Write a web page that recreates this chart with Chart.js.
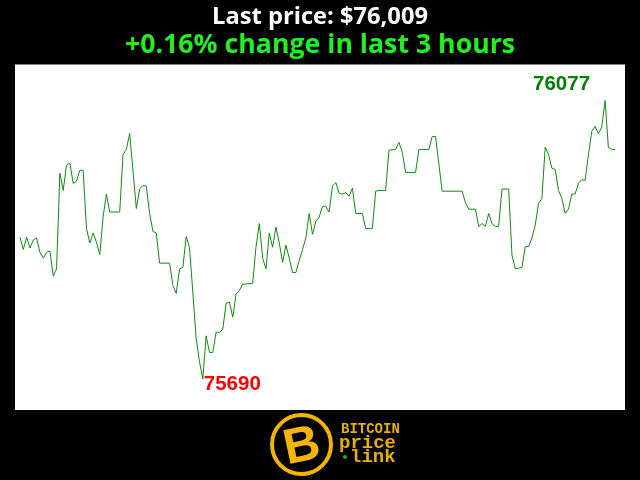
<!DOCTYPE html>
<html>
<head>
<meta charset="utf-8">
<script src="https://cdn.jsdelivr.net/npm/chart.js@4.4.0/dist/chart.umd.min.js"></script>
<style>
    html, body { margin: 0; padding: 0; background: #000; }
    #wrap { position: relative; width: 640px; height: 480px; overflow: hidden; }
    #chart { position: absolute; left: 0; top: 0; }
    .coin {
        position: absolute; left: 270px; top: 413px; width: 63px; height: 63px;
        box-sizing: border-box; border: 4px solid #f4b400; border-radius: 50%;
        overflow: hidden;
    }
    .coin span {
        position: absolute; left: 0; right: 0; top: 2px; text-align: center;
        font: bold 50px "Liberation Sans", Arial, sans-serif; line-height: 50px;
        color: #f4b400; transform: rotate(-12deg);
    }
    .brand { position: absolute; color: #e8b000; font-family: "Liberation Mono", "DejaVu Sans Mono", monospace; font-weight: bold; white-space: nowrap; }
    .dot { position: absolute; left: 343px; top: 455px; width: 4px; height: 4px; border-radius: 50%; background: #22aa22; }
</style>
</head>
<body>
<div id="wrap">
    <canvas id="chart" width="640" height="480"></canvas>
    <div class="coin"><span>B</span></div>
    <div class="brand" style="left:341px; top:422px; font-size:14px; line-height:14px;">BITCOIN</div>
    <div class="brand" style="left:339px; top:434px; font-size:19px; line-height:19px;">price</div>
    <div class="dot"></div>
    <div class="brand" style="left:350px; top:448px; font-size:19px; line-height:19px;">link</div>
</div>
<script>
// Price data (one reading per minute, only the turning points are listed)
const lastPrice = "$76,009";
const changeText = "+0.16% change in last 3 hours";

const minutes = [
    0, 1, 2, 3, 4, 5, 6, 7, 8, 9, 10, 11, 12, 13, 14, 15, 16, 17, 18, 19,
    20, 21, 22, 23, 24, 25, 26, 27, 30, 31, 32, 33, 35, 36, 37, 38, 39, 40, 41, 42,
    45, 46, 47, 48, 49, 50, 51, 53, 54, 55, 56, 57, 58, 59, 60, 61, 62, 63, 64, 65,
    66, 67, 68, 70, 71, 72, 73, 74, 75, 76, 77, 78, 79, 80, 81, 82, 83, 84, 85, 86,
    87, 88, 89, 90, 91, 92, 93, 94, 95, 96, 97, 98, 99, 100, 101, 102, 103, 104, 106, 107,
    108, 110, 111, 113, 114, 115, 116, 119, 120, 123, 124, 125, 127, 133, 134, 135, 137, 138, 139, 140,
    141, 142, 143, 144, 145, 147, 148, 149, 150, 151, 152, 153, 154, 155, 156, 157, 158, 159, 160, 161,
    162, 163, 164, 165, 166, 167, 168, 169, 170, 171, 172, 173, 174, 175, 176, 177, 178, 179
];

const prices = [
    75887, 75870, 75887, 75872, 75883, 75886, 75866, 75858, 75866, 75868, 75833, 75843, 75976, 75952, 75987, 75990, 75962, 75965, 75980, 75980,
    75899, 75879, 75893, 75880, 75863, 75915, 75947, 75922, 75922, 76002, 76009, 76031, 75927, 75954, 75959, 75958, 75920, 75895, 75893, 75851,
    75851, 75820, 75809, 75843, 75845, 75888, 75873, 75747, 75714, 75690, 75750, 75727, 75727, 75755, 75755, 75759, 75795, 75797, 75776, 75808,
    75813, 75822, 75822, 75823, 75874, 75906, 75858, 75843, 75893, 75873, 75901, 75879, 75852, 75876, 75858, 75838, 75838, 75855, 75870, 75886,
    75920, 75891, 75909, 75915, 75930, 75930, 75922, 75958, 75963, 75948, 75947, 75949, 75944, 75955, 75920, 75920, 75920, 75899, 75899, 75951,
    75952, 75952, 76008, 76009, 76019, 76005, 75977, 75977, 76009, 76009, 76027, 76027, 75951, 75951, 75935, 75926, 75926, 75902, 75906, 75902,
    75920, 75906, 75902, 75902, 75954, 75954, 75862, 75843, 75844, 75845, 75874, 75874, 75886, 75904, 75934, 75941, 76012, 76002, 75983, 75981,
    75952, 75941, 75920, 75926, 75947, 75947, 75962, 75967, 75966, 76001, 76034, 76041, 76031, 76040, 76077, 76012, 76009, 76009
];

const points = minutes.map((m, i) => ({ x: m, y: prices[i] }));

let hiIdx = 0, loIdx = 0;
prices.forEach((p, i) => {
    if (p > prices[hiIdx]) hiIdx = i;
    if (p < prices[loIdx]) loIdx = i;
});

// white plot area + high / low labels
const plotDecor = {
    id: "plotDecor",
    beforeDraw(chart) {
        const { ctx, chartArea: a } = chart;
        ctx.save();
        ctx.fillStyle = "#000";
        ctx.fillRect(0, 0, chart.width, chart.height);
        ctx.fillStyle = "#fff";
        ctx.fillRect(a.left, a.top, a.right - a.left, a.bottom - a.top);
        ctx.restore();
    },
    afterDatasetsDraw(chart) {
        const { ctx, scales } = chart;
        const xs = scales.x, ys = scales.y;
        ctx.save();
        ctx.font = "bold 20.5px 'Liberation Sans', Arial, sans-serif";

        ctx.fillStyle = "#008000";
        ctx.textAlign = "right";
        ctx.textBaseline = "bottom";
        ctx.fillText(String(prices[hiIdx]), xs.getPixelForValue(minutes[hiIdx]) - 15, ys.getPixelForValue(prices[hiIdx]) - 6);

        ctx.fillStyle = "#ff0000";
        ctx.textAlign = "left";
        ctx.textBaseline = "middle";
        ctx.fillText(String(prices[loIdx]), xs.getPixelForValue(minutes[loIdx]) + 1, ys.getPixelForValue(prices[loIdx]) + 5);
        ctx.restore();
    }
};

new Chart(document.getElementById("chart"), {
    type: "line",
    data: {
        datasets: [{
            data: points,
            borderColor: "#108c10",
            borderWidth: 1,
            pointRadius: 0,
            tension: 0,
            fill: false
        }]
    },
    options: {
        responsive: false,
        animation: false,
        layout: { padding: { left: 15, right: 15, bottom: 70, top: 0 } },
        plugins: {
            legend: { display: false },
            tooltip: { enabled: false },
            title: {
                display: true,
                text: "Last price: " + lastPrice,
                color: "#ffffff",
                font: { family: "'Open Sans', sans-serif", size: 23.7, weight: "bold" },
                padding: { top: 3, bottom: 0 }
            },
            subtitle: {
                display: true,
                text: changeText,
                color: "#22ee22",
                font: { family: "'Open Sans', sans-serif", size: 26.7, weight: "bold" },
                padding: { top: -2, bottom: 3 }
            }
        },
        scales: {
            x: { type: "linear", min: -1.5, max: 182, display: false },
            y: { min: 75647, max: 76127, display: false }
        }
    },
    plugins: [plotDecor]
});
</script>
</body>
</html>
